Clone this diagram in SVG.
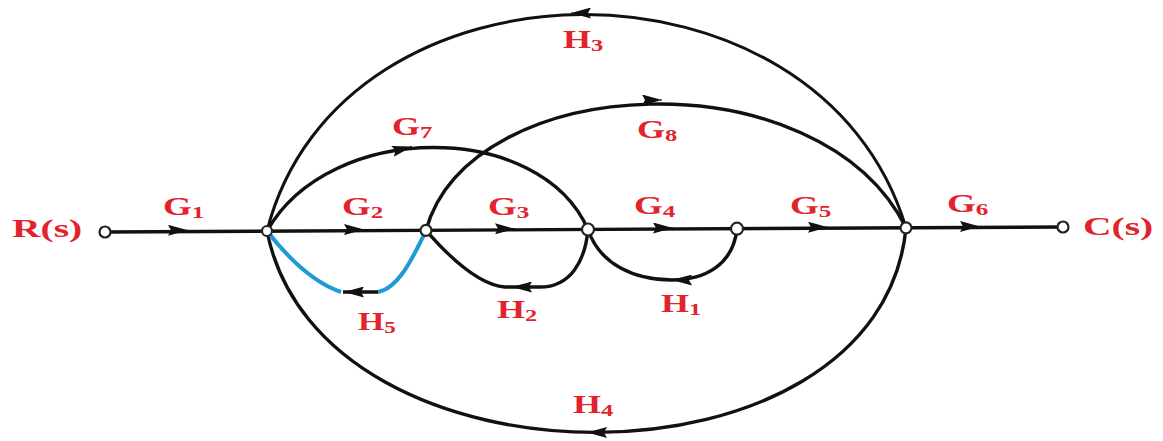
<svg xmlns="http://www.w3.org/2000/svg" width="1163" height="441" viewBox="0 0 1163 441">
<style>
.lbl{font-family:"Liberation Serif","Times New Roman",serif;font-weight:bold;font-size:25px;fill:#e3232c}
.sub{font-size:17px}
.edge{fill:none;stroke:#111;stroke-width:3.4}
.thin{fill:none;stroke:#111;stroke-width:3}
.blue{fill:none;stroke:#1e9ad6;stroke-width:4}
.ah{fill:none;stroke:#111;stroke-width:1}
.node{fill:#fff;stroke:#222;stroke-width:2.2}
</style>
<defs>
<marker id="arr" viewBox="0 0 20 11" refX="20" refY="5.5" markerWidth="20" markerHeight="11" markerUnits="userSpaceOnUse" orient="auto">
<path d="M0,0 L20,5.5 L0,11 L3,5.5 z" fill="#111"/>
</marker>
</defs>
<g id="connectors">
<path class="edge" d="M105,232 L1063,227"/>
<path id="e-G7" class="edge" d="M267,231 C330,120 540,120 588,229.5"/>
<path id="e-G8" class="edge" d="M426,230.3 C470,70 820,55 906,227.8"/>
<path id="e-H3" class="thin" d="M906,227.8 C820,-59 340,-55 267,231"/>
<path id="e-H4" class="edge" d="M906,227.8 C880,500 320,500 267,231"/>
<path id="e-H2" class="edge" d="M588,229.5 C585,262 570,287 540,287 L505,287 C480,285 450,258 426,230.3"/>
<path id="e-H1" class="edge" d="M737,228.7 C733,265 705,280 672,280 C635,280 600,265 588,229.5"/>
<path id="e-H5a" class="blue" d="M426,230.3 C412,260 398,288 378,292"/>
<path id="e-H5b" class="blue" d="M341,292 C312,282 288,258 267,231"/>
<path class="edge" d="M378,292 L343,292"/>
<path class="ah" d="M186,230.3 L188,230.3" marker-end="url(#arr)"/>
<path class="ah" d="M362,229.6 L364,229.6" marker-end="url(#arr)"/>
<path class="ah" d="M513,228.8 L515,228.8" marker-end="url(#arr)"/>
<path class="ah" d="M671,228 L673,228" marker-end="url(#arr)"/>
<path class="ah" d="M826,227.2 L828,227.2" marker-end="url(#arr)"/>
<path class="ah" d="M978,226.5 L980,226.5" marker-end="url(#arr)"/>
<path class="ah" d="M410,147 L412,146.5" marker-end="url(#arr)"/>
<path class="ah" d="M660,100 L662,100" marker-end="url(#arr)"/>
<path class="ah" d="M573,13 L571,13" marker-end="url(#arr)"/>
<path class="ah" d="M514,287 L512,287" marker-end="url(#arr)"/>
<path class="ah" d="M674,280 L672,280" marker-end="url(#arr)"/>
<path class="ah" d="M346,292 L344,292" marker-end="url(#arr)"/>
<path class="ah" d="M589,432.5 L587,432.5" marker-end="url(#arr)"/>
</g>
<g id="R"><circle class="node" cx="105" cy="232" r="5.5"/></g>
<g id="N1"><circle class="node" cx="267" cy="231" r="5"/></g>
<g id="N2"><circle class="node" cx="426" cy="230.3" r="5.5"/></g>
<g id="N3"><circle class="node" cx="588" cy="229.5" r="6"/></g>
<g id="N4"><circle class="node" cx="737" cy="228.7" r="6"/></g>
<g id="N5"><circle class="node" cx="906" cy="227.8" r="5.5"/></g>
<g id="C"><circle class="node" cx="1063" cy="227" r="5.5"/></g>
<g id="labels">
<text class="lbl" transform="translate(12,237) scale(1.58,1)">R(s)</text>
<text class="lbl" transform="translate(1083,235) scale(1.58,1)">C(s)</text>
<text class="lbl" transform="translate(163,215) scale(1.48,1)">G<tspan class="sub" dy="3">1</tspan></text>
<text class="lbl" transform="translate(342,215) scale(1.48,1)">G<tspan class="sub" dy="3">2</tspan></text>
<text class="lbl" transform="translate(488,215) scale(1.48,1)">G<tspan class="sub" dy="3">3</tspan></text>
<text class="lbl" transform="translate(634,214) scale(1.48,1)">G<tspan class="sub" dy="3">4</tspan></text>
<text class="lbl" transform="translate(790,214) scale(1.48,1)">G<tspan class="sub" dy="3">5</tspan></text>
<text class="lbl" transform="translate(947,212) scale(1.48,1)">G<tspan class="sub" dy="3">6</tspan></text>
<text class="lbl" transform="translate(392,135) scale(1.44,1)">G<tspan class="sub" dy="3">7</tspan></text>
<text class="lbl" transform="translate(637,138) scale(1.44,1)">G<tspan class="sub" dy="3">8</tspan></text>
<text class="lbl" transform="translate(563,48) scale(1.44,1)">H<tspan class="sub" dy="3">3</tspan></text>
<text class="lbl" transform="translate(358,330) scale(1.35,1)">H<tspan class="sub" dy="3">5</tspan></text>
<text class="lbl" transform="translate(497,318) scale(1.44,1)">H<tspan class="sub" dy="3">2</tspan></text>
<text class="lbl" transform="translate(661,312) scale(1.44,1)">H<tspan class="sub" dy="3">1</tspan></text>
<text class="lbl" transform="translate(573,413) scale(1.44,1)">H<tspan class="sub" dy="3">4</tspan></text>
</g>
</svg>
